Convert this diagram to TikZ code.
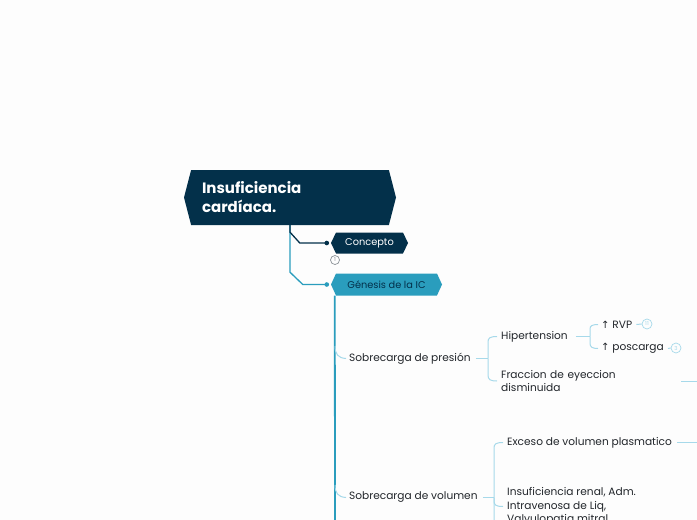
\documentclass[tikz,border=0pt]{standalone}
\usepackage{fontspec}
\setmainfont{Poppins}
\newfontfamily\arrowfont{DejaVu Sans}
\usetikzlibrary{shapes.symbols}
\definecolor{cnavy}{HTML}{03304A}
\definecolor{cteal}{HTML}{2A9DBD}
\definecolor{clight}{HTML}{A6D9EA}
\definecolor{ctext}{HTML}{22262B}
\definecolor{cbg}{HTML}{FDFDFD}
\definecolor{cgrey}{HTML}{8A9096}
\tikzset{
  hexnode/.style={signal, signal to=east and west, inner sep=0pt, draw=none},
  lbl/.style={anchor=west, inner sep=0pt, yshift=-1.5pt, text=ctext, font=\fontsize{10.6}{13.5}\selectfont},
  conn/.style={draw=clight, line width=1pt},
  badge/.style={circle, draw=clight, line width=0.7pt, inner sep=0pt, minimum size=10pt, text=clight, font=\fontsize{5.5}{5.5}\selectfont}
}
\begin{document}
\begin{tikzpicture}[x=1pt,y=-1pt]
\useasboundingbox (0,0) rectangle (697,520);
\fill[cbg] (0,0) rectangle (697,520);

% main nodes
\node[hexnode, fill=cnavy, minimum width=212pt, minimum height=55pt, signal pointer angle=151,
      text width=176pt, align=left, text=white, font=\bfseries\fontsize{15}{19}\selectfont] (root) at (290,197.5) {Insuficiencia\\cardíaca.};
\node[hexnode, fill=cnavy, minimum width=77pt, minimum height=21pt, signal pointer angle=129,
      text=white, font=\fontsize{9.8}{12}\selectfont] (concepto) at (369.5,243) {Concepto};
\node[hexnode, fill=cteal, minimum width=111pt, minimum height=22pt, signal pointer angle=131,
      text=cnavy, font=\fontsize{9.8}{12}\selectfont] (genesis) at (386.5,284.5) {Génesis de la IC};

\draw[cteal, line width=1.3pt] (root.south) -- ++(0,47) -- ([xshift=-28pt]genesis.west) -- ([xshift=-4pt]genesis.west);
\fill[cteal] ([xshift=-4pt]genesis.west) circle (2.3pt);
\draw[cnavy, line width=1.3pt] (root.south) -- ++(0,7) -- ([xshift=-31pt]concepto.west) -- ([xshift=-4pt]concepto.west);
\fill[cnavy] ([xshift=-4pt]concepto.west) circle (2.3pt);

\node[badge, draw=cgrey, text=cgrey, minimum size=9pt] (b1) at (335,260) {1};

\coordinate (trunkend) at (335,522);
\draw[cteal, line width=1.8pt] ([xshift=4pt,yshift=-11pt]genesis.west) -- (trunkend);

% level 2
\node[lbl] (sp) at (349,357) {Sobrecarga de presión};
\node[lbl] (sv) at (349,496) {Sobrecarga de volumen};
\coordinate (t1) at (335,346);
\coordinate (t2) at (335,485);
\draw[conn] (t1) .. controls (335,354) and (338,358) .. ([xshift=-3pt]sp.west);
\draw[conn] (t2) .. controls (335,493) and (338,497) .. ([xshift=-3pt]sv.west);

% level 3 under presion
\node[lbl] (hip) at (501,335) {Hipertension};
\node[lbl, text width=176pt, align=left] (fr) at (501,379.5) {Fraccion de eyeccion\\disminuida};
\coordinate (sp1) at (488,358.5);
\draw[conn] ([xshift=5pt]sp.east) -- (sp1);
\draw[conn] (sp1) -- (488,342) .. controls (488,338) and (490,336.5) .. ([xshift=-4pt]hip.west);
\draw[conn] (sp1) -- (488,375) .. controls (488,379.5) and (490,381) .. ([xshift=-4pt]fr.west);
\coordinate (frend) at (698,381);
\draw[conn] ([xshift=4pt]fr.east) -- (frend);

% level 4 under hipertension
\node[lbl] (rvp) at (601,323) {{\arrowfont\fontsize{10}{12}\selectfont ↑} RVP};
\node[lbl] (posc) at (601,347) {{\arrowfont\fontsize{10}{12}\selectfont ↑} poscarga};
\coordinate (hp1) at (590,336.5);
\draw[conn] ([xshift=8pt]hip.east) -- (hp1);
\draw[conn] (hp1) -- (590,329) .. controls (590,326) and (592,324.5) .. ([xshift=-3pt]rvp.west);
\draw[conn] (hp1) -- (590,343) .. controls (590,347) and (592,348.5) .. ([xshift=-3pt]posc.west);
\node[badge] (b11) at (647,324) {11};
\node[badge] (b3) at (676,348) {3};
\draw[conn] ([xshift=4pt]rvp.east) -- (b11.west);
\draw[conn] ([xshift=4pt]posc.east) -- (b3.west);

% level 3 under volumen
\node[lbl] (ex) at (507,441) {Exceso de volumen plasmatico};
\node[lbl, align=left] (ir) at (507,505) {Insuficiencia renal, Adm.\\Intravenosa de Liq,\\Valvulopatia mitral};
\coordinate (sv1) at (494,497.5);
\coordinate (svend) at (494,522);
\draw[conn] ([xshift=5pt]sv.east) -- (sv1);
\draw[conn] (svend) -- (494,448) .. controls (494,444) and (496,442.5) .. ([xshift=-4pt]ex.west);
\draw[conn] (sv1) -- (494,501) .. controls (494,505) and (496,506.5) .. ([xshift=-4pt]ir.west);
\coordinate (exend) at (698,442.5);
\draw[conn] ([xshift=5pt]ex.east) -- (exend);
\end{tikzpicture}
\end{document}
